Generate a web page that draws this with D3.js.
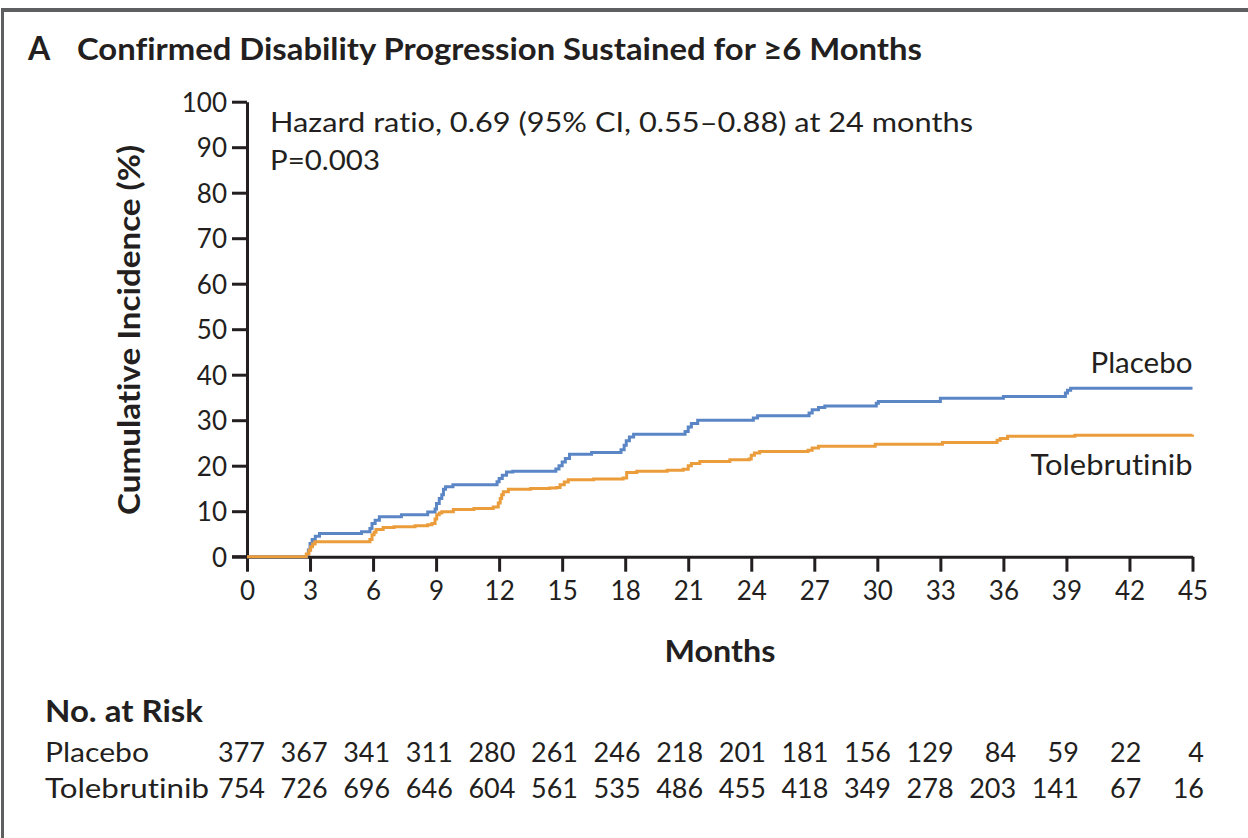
<!DOCTYPE html>
<html><head><meta charset="utf-8">
<script src="https://cdn.jsdelivr.net/npm/d3@7"></script>
<style>body{margin:0;background:#fff}svg{display:block}text{font-variant-ligatures:none;font-feature-settings:"liga" 0}</style>
</head><body><svg id="c" width="1248" height="838"></svg>
<script>
// ---- data ----
const xTicks = [0,3,6,9,12,15,18,21,24,27,30,33,36,39,42,45];
const yTicks = [0,10,20,30,40,50,60,70,80,90,100];
const placeboMonths = [0,2.84,2.92,3.0,3.1,3.25,3.45,5.45,5.85,5.95,6.1,6.3,7.35,8.6,8.95,9.02,9.15,9.27,9.35,9.45,9.8,11.9,12.0,12.15,12.35,12.65,14.7,14.85,15.0,15.15,15.35,16.4,17.8,17.95,18.05,18.2,18.4,20.85,21.0,21.15,21.45,24.1,24.3,26.75,26.9,27.2,27.5,29.95,30.05,33.0,36.0,38.95,39.05,39.2,45];
const placeboValues = [0,0.5,1.5,2.9,3.8,4.5,5.1,5.5,6.2,7.3,8.0,8.8,9.2,9.8,10.5,11.7,12.8,13.6,14.8,15.4,15.8,16.5,17.2,17.9,18.6,18.8,19.3,20.0,20.8,21.6,22.5,22.9,23.5,24.5,25.5,26.3,26.9,27.5,28.5,29.3,30.0,30.5,31.0,31.6,32.3,32.8,33.1,33.7,34.1,34.8,35.2,36.0,36.6,37.0,37.0];
const tolebrutinibMonths = [0,2.82,2.95,3.03,3.12,3.24,5.85,5.95,6.05,6.14,6.48,7.0,8.0,8.6,8.8,8.95,9.03,9.15,9.27,9.82,10.8,11.72,11.96,12.05,12.12,12.2,12.44,13.5,14.4,14.73,14.9,15.1,15.29,16.5,17.9,18.07,18.55,20.0,20.76,21.0,21.15,21.55,22.98,23.9,24.0,24.15,24.4,26.7,26.9,27.2,29.9,33.1,35.7,35.85,36.2,39.4,45];
const tolebrutinibValues = [0,0.6,1.4,2.2,2.8,3.3,3.8,4.8,5.4,6.0,6.4,6.6,6.8,7.0,7.3,8.3,9.2,9.6,9.9,10.4,10.6,10.9,11.8,12.8,13.6,14.3,14.8,15.0,15.1,15.2,15.8,16.4,16.9,17.1,17.3,18.5,18.8,19.0,19.2,20.0,20.5,20.9,21.3,21.5,22.3,22.8,23.1,23.4,23.9,24.3,24.7,25.1,25.6,26.0,26.5,26.7,26.8];
const riskGroups = ["Placebo","Tolebrutinib"];
const placeboRisk = [377,367,341,311,280,261,246,218,201,181,156,129,84,59,22,4];
const tolebrutinibRisk = [754,726,696,646,604,561,535,486,455,418,349,278,203,141,67,16];
const titleLetter = "A";
const titleText = "Confirmed Disability Progression Sustained for ≥6 Months";
const hrText = "Hazard ratio, 0.69 (95% CI, 0.55–0.88) at 24 months";
const pText = "P=0.003";

// ---- styles ----
const FONT = "Lato, 'Open Sans', sans-serif";
const INK = "#231f20";
const BLUE = "#5b86c6", ORANGE = "#eb9c3b";

const svg = d3.select("#c");
// frame
svg.append("rect").attr("x",3).attr("y",8).attr("width",1245).attr("height",4).attr("fill","#5e5f61");
svg.append("rect").attr("x",1).attr("y",8).attr("width",3).attr("height",830).attr("fill","#5e5f61");

const x = d3.scaleLinear().domain([0,45]).range([247,1192.5]);
const y = d3.scaleLinear().domain([0,100]).range([556.7,101.7]);

// title
svg.append("text").attr("x",28).attr("y",60).attr("font-family",FONT).attr("font-weight",700).attr("font-size",32).attr("fill",INK).text(titleLetter);
svg.append("text").attr("x",77).attr("y",60).attr("font-family",FONT).attr("font-weight",700).attr("font-size",30).attr("fill",INK).text(titleText)
  .attr("textLength",845).attr("lengthAdjust","spacingAndGlyphs");

// axes
const yAxis = d3.axisLeft(y).tickValues(yTicks).tickSize(15).tickSizeOuter(0).tickPadding(5);
const gy = svg.append("g").attr("transform",`translate(${x(0)},0)`).call(yAxis);
const xAxis = d3.axisBottom(x).tickValues(xTicks).tickSize(15).tickSizeOuter(0).tickPadding(10);
const gx = svg.append("g").attr("transform",`translate(0,${y(0)})`).call(xAxis);
[gx,gy].forEach(g=>{
  g.select(".domain").attr("stroke",INK).attr("stroke-width",3);
  g.selectAll(".tick line").attr("stroke",INK).attr("stroke-width",3);
  g.selectAll(".tick text").attr("font-family",FONT).attr("font-size",26).attr("fill",INK);
});
gx.selectAll(".tick text").attr("dy","0.71em");
gy.selectAll(".tick text").attr("dy","0.36em");
gx.append("line").attr("x1",x(0)-15).attr("x2",x(0)).attr("y1",0).attr("y2",0).attr("stroke",INK).attr("stroke-width",3);

// axis titles
svg.append("text").attr("transform","translate(140,330) rotate(-90)").attr("text-anchor","middle")
  .attr("font-family",FONT).attr("font-weight",700).attr("font-size",30).attr("fill",INK).text("Cumulative Incidence (%)")
  .attr("textLength",370).attr("lengthAdjust","spacingAndGlyphs");
svg.append("text").attr("x",720).attr("y",662).attr("text-anchor","middle")
  .attr("font-family",FONT).attr("font-weight",700).attr("font-size",30).attr("fill",INK).text("Months")
  .attr("textLength",111).attr("lengthAdjust","spacingAndGlyphs");

// annotation
svg.append("text").attr("x",270).attr("y",132).attr("font-family",FONT).attr("font-size",27).attr("fill",INK).text(hrText)
  .attr("textLength",703).attr("lengthAdjust","spacingAndGlyphs");
svg.append("text").attr("x",270).attr("y",170).attr("font-family",FONT).attr("font-size",27).attr("fill",INK).text(pText)
  .attr("textLength",110).attr("lengthAdjust","spacingAndGlyphs");

// curves
const line = d3.line().x(d=>x(d[0])).y(d=>y(d[1])).curve(d3.curveStepAfter);
const series = [
  {name:"Placebo", months:placeboMonths, values:placeboValues, color:BLUE, labelY:373, w:102},
  {name:"Tolebrutinib", months:tolebrutinibMonths, values:tolebrutinibValues, color:ORANGE, labelY:475, w:162}
];
series.forEach(s=>{
  const pts = s.months.map((m,i)=>[m,s.values[i]]);
  svg.append("path").attr("d",line(pts)).attr("fill","none").attr("stroke",s.color).attr("stroke-width",3);
  svg.append("text").attr("x",x(45)).attr("y",s.labelY).attr("text-anchor","end").attr("font-family",FONT).attr("font-size",28).attr("fill",INK).text(s.name)
    .attr("textLength",s.w).attr("lengthAdjust","spacingAndGlyphs");
});

// number at risk
const col = d3.scaleLinear().domain([0,45]).range([265,1204]);
svg.append("text").attr("x",45).attr("y",722).attr("font-family",FONT).attr("font-weight",700).attr("font-size",30).attr("fill",INK).text("No. at Risk")
  .attr("textLength",158).attr("lengthAdjust","spacingAndGlyphs");
const riskRows = [placeboRisk, tolebrutinibRisk];
const rowY = [762, 798];
const labelW = [104, 164];
riskGroups.forEach((g,i)=>{
  svg.append("text").attr("x",45).attr("y",rowY[i]).attr("font-family",FONT).attr("font-size",27).attr("fill",INK).text(g)
    .attr("textLength",labelW[i]).attr("lengthAdjust","spacingAndGlyphs");
  riskRows[i].forEach((v,j)=>{
    svg.append("text").attr("x",col(xTicks[j])).attr("y",rowY[i]).attr("text-anchor","end").attr("font-family",FONT).attr("font-size",27).attr("fill",INK).text(v);
  });
});
</script></body></html>
